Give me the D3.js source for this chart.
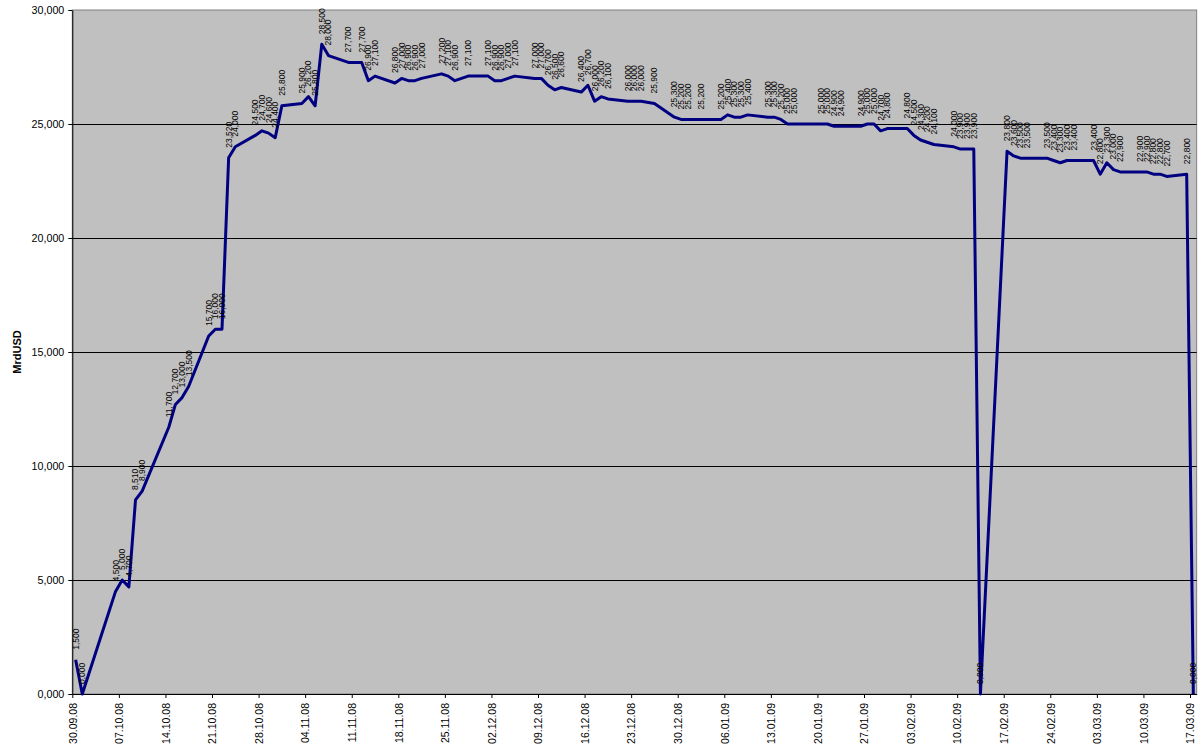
<!DOCTYPE html>
<html>
<head>
<meta charset="utf-8">
<script src="https://cdn.jsdelivr.net/npm/d3@7"></script>
<style>
  html, body { margin: 0; padding: 0; background: #fff; }
  svg { display: block; font-family: "Liberation Sans", Arial, sans-serif; }
</style>
</head>
<body>
<svg id="chart" width="1203" height="752"></svg>
<script>
// ---------------- data ----------------
const dates = ["30.09.08","01.10.08","06.10.08","07.10.08","08.10.08","09.10.08","10.10.08","14.10.08","15.10.08","16.10.08","17.10.08","20.10.08","21.10.08","22.10.08","23.10.08","24.10.08","27.10.08","28.10.08","29.10.08","30.10.08","31.10.08","03.11.08","04.11.08","05.11.08","06.11.08","07.11.08","10.11.08","12.11.08","13.11.08","14.11.08","17.11.08","18.11.08","19.11.08","20.11.08","21.11.08","24.11.08","25.11.08","26.11.08","28.11.08","01.12.08","02.12.08","03.12.08","04.12.08","05.12.08","08.12.08","09.12.08","10.12.08","11.12.08","12.12.08","15.12.08","16.12.08","17.12.08","18.12.08","19.12.08","22.12.08","23.12.08","24.12.08","26.12.08","29.12.08","30.12.08","31.12.08","02.01.09","05.01.09","06.01.09","07.01.09","08.01.09","09.01.09","12.01.09","13.01.09","14.01.09","15.01.09","16.01.09","20.01.09","21.01.09","22.01.09","23.01.09","26.01.09","27.01.09","28.01.09","29.01.09","30.01.09","02.02.09","03.02.09","04.02.09","05.02.09","06.02.09","09.02.09","10.02.09","11.02.09","12.02.09","13.02.09","17.02.09","18.02.09","19.02.09","20.02.09","23.02.09","24.02.09","25.02.09","26.02.09","27.02.09","02.03.09","03.03.09","04.03.09","05.03.09","06.03.09","09.03.09","10.03.09","11.03.09","12.03.09","13.03.09","16.03.09","17.03.09"];

const values = [1500,0,4500,5000,4700,8510,8900,11700,12700,13000,13500,15700,16000,16000,23520,24000,24500,24700,24600,24400,25800,25900,26200,25800,28500,28000,27700,27700,26900,27100,26800,27000,26900,26900,27000,27200,27100,26900,27100,27100,26900,26900,27000,27100,27000,27000,26700,26500,26600,26400,26700,26000,26200,26100,26000,26000,26000,25900,25300,25200,25200,25200,25200,25400,25300,25300,25400,25300,25300,25200,25000,25000,25000,25000,24900,24900,24900,25000,25000,24700,24800,24800,24500,24300,24200,24100,24000,23900,23900,23900,0,23800,23600,23500,23500,23500,23400,23300,23400,23400,23400,22800,23300,23000,22900,22900,22900,22800,22800,22700,22800,0];

const xTickLabels = ["30.09.08","07.10.08","14.10.08","21.10.08","28.10.08","04.11.08","11.11.08","18.11.08","25.11.08","02.12.08","09.12.08","16.12.08","23.12.08","30.12.08","06.01.09","13.01.09","20.01.09","27.01.09","03.02.09","10.02.09","17.02.09","24.02.09","03.03.09","10.03.09","17.03.09"];

const yTicks = [0, 5000, 10000, 15000, 20000, 25000, 30000];
const yTitle = "MrdUSD";

// ---------------- drawing ----------------
(function () {
  const parse = d3.timeParse("%d.%m.%y");
  const fmtDate = d3.timeFormat("%d.%m.%y");
  const fmtNum = v => Math.floor(v / 1000) + "," + String(Math.round(v % 1000)).padStart(3, "0");

  const data = dates.map((d, i) => ({ date: parse(d), value: values[i] }));
  const tickDates = xTickLabels.map(parse);

  const pL = 72.3, pT = 10, pB = 694;
  const dayPx = 6.653;
  const startDate = parse("30.09.08");
  const endDate = d3.timeDay.offset(parse("17.03.09"), 1);
  const nDays = d3.timeDay.count(startDate, endDate);
  const pR = pL + nDays * dayPx;

  const svg = d3.select("#chart");

  const x = d3.scaleTime().domain([startDate, endDate]).range([pL, pR]);
  const y = d3.scaleLinear().domain([0, 30000]).range([pB, pT]);
  const xc = d => x(d3.timeHour.offset(d, 12)); // centred in the day

  // plot area
  svg.append("rect")
    .attr("x", pL).attr("y", pT)
    .attr("width", pR - pL).attr("height", pB - pT)
    .attr("fill", "#c0c0c0")
    .attr("stroke", "#808080").attr("stroke-width", 1);

  // grid lines
  svg.append("g")
    .selectAll("line")
    .data(yTicks.filter(v => v > 0 && v < 30000))
    .join("line")
    .attr("x1", pL).attr("x2", pR)
    .attr("y1", d => Math.round(y(d)) + 0.5).attr("y2", d => Math.round(y(d)) + 0.5)
    .attr("stroke", "#000").attr("stroke-width", 1);

  // y axis
  const yAxis = svg.append("g")
    .attr("transform", `translate(${pL},0)`)
    .call(d3.axisLeft(y).tickValues(yTicks).tickFormat(fmtNum).tickSize(4).tickPadding(4).tickSizeOuter(0));
  yAxis.select(".domain").attr("stroke", "#000");
  yAxis.selectAll("text").attr("font-size", "10.7px").attr("fill", "#000")
    .attr("font-family", "'Liberation Sans', Arial, sans-serif");

  // x axis
  const xAxis = svg.append("g")
    .attr("transform", `translate(0,${pB})`)
    .call(d3.axisBottom(x).tickValues(tickDates).tickFormat(fmtDate).tickSize(4).tickSizeOuter(0));
  xAxis.select(".domain").attr("stroke", "#000");
  xAxis.selectAll("text")
    .attr("font-size", "10.5px").attr("fill", "#000")
    .attr("font-family", "'Liberation Sans', Arial, sans-serif")
    .attr("transform", "rotate(-90)")
    .attr("text-anchor", "end")
    .attr("x", -9).attr("y", 0).attr("dy", "0.36em");

  // y title
  svg.append("text")
    .attr("transform", `translate(21,${(pT + pB) / 2}) rotate(-90)`)
    .attr("text-anchor", "middle")
    .attr("font-size", "11px").attr("font-weight", "bold")
    .text(yTitle);

  // line
  const line = d3.line().x(d => xc(d.date)).y(d => y(d.value));
  svg.append("path")
    .datum(data)
    .attr("d", line)
    .attr("fill", "none")
    .attr("stroke", "#000080")
    .attr("stroke-width", 3)
    .attr("stroke-linejoin", "round");

  // data labels
  svg.append("g")
    .selectAll("text")
    .data(data)
    .join("text")
    .attr("transform", d => `translate(${xc(d.date)},${y(d.value) - 10}) rotate(-90)`)
    .attr("text-anchor", "start")
    .attr("dy", "0.35em")
    .attr("font-size", "8.5px")
    .attr("fill", "#000")
    .text(d => fmtNum(d.value));
})();
</script>
</body>
</html>
